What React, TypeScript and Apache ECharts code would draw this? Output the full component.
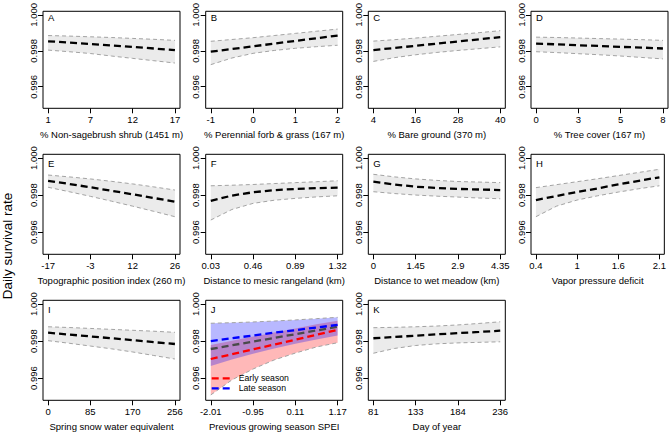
import React, { useEffect, useRef } from "react";
import * as echarts from "echarts";

const FONT = '"Liberation Sans", Arial, Helvetica, sans-serif';

// Prediction points: four evenly spaced reference values per covariate (0..3),
// evaluated at half steps.
const xPos = [0, 0.5, 1, 1.5, 2, 2.5, 3];
const xTickPos = [0, 1, 2, 3];
const yTicks = [0.996, 0.998, 1.0];

const letters = ["A", "B", "C", "D", "E", "F", "G", "H", "I", "J", "K"];

const titles = [
  "% Non-sagebrush shrub (1451 m)",
  "% Perennial forb & grass (167 m)",
  "% Bare ground (370 m)",
  "% Tree cover (167 m)",
  "Topographic position index (260 m)",
  "Distance to mesic rangeland (km)",
  "Distance to wet meadow (km)",
  "Vapor pressure deficit",
  "Spring snow water equivalent",
  "Previous growing season SPEI",
  "Day of year",
];

const shrubTicks = ["1", "7", "12", "17"];
const forbTicks = ["-1", "0", "1", "2"];
const bareTicks = ["4", "16", "28", "40"];
const treeTicks = ["0", "3", "5", "8"];
const tpiTicks = ["-17", "-3", "12", "26"];
const mesicTicks = ["0.03", "0.46", "0.89", "1.32"];
const meadowTicks = ["0", "1.45", "2.9", "4.35"];
const vpdTicks = ["0.4", "1", "1.6", "2.1"];
const sweTicks = ["0", "85", "170", "256"];
const speiTicks = ["-2.01", "-0.95", "0.11", "1.17"];
const dayTicks = ["81", "133", "184", "236"];

const shrubMean = [0.99853, 0.99846, 0.99838, 0.9983, 0.99822, 0.99813, 0.99804];
const shrubUpper = [0.99885, 0.99882, 0.99878, 0.99874, 0.99869, 0.99864, 0.99858];
const shrubLower = [0.99804, 0.99795, 0.99785, 0.99771, 0.99758, 0.99745, 0.99732];

const forbMean = [0.99795, 0.9981, 0.99825, 0.9984, 0.99855, 0.9987, 0.99885];
const forbUpper = [0.99853, 0.99863, 0.99873, 0.99885, 0.99897, 0.99909, 0.99921];
const forbLower = [0.99723, 0.9976, 0.99786, 0.99802, 0.99814, 0.99823, 0.99831];

const bareMean = [0.99804, 0.99816, 0.99828, 0.9984, 0.99852, 0.99864, 0.99876];
const bareUpper = [0.99854, 0.99862, 0.99871, 0.99881, 0.99891, 0.99901, 0.99912];
const bareLower = [0.99741, 0.99762, 0.99778, 0.99791, 0.99802, 0.99812, 0.99822];

const treeMean = [0.9984, 0.99836, 0.99831, 0.99827, 0.99822, 0.99818, 0.99813];
const treeUpper = [0.99876, 0.99874, 0.99871, 0.99868, 0.99865, 0.99862, 0.99858];
const treeLower = [0.99795, 0.9979, 0.99784, 0.99778, 0.99771, 0.99763, 0.99755];

const tpiMean = [0.99877, 0.9986, 0.99842, 0.99823, 0.99804, 0.99784, 0.99764];
const tpiUpper = [0.99908, 0.99898, 0.99887, 0.99874, 0.9986, 0.99844, 0.99827];
const tpiLower = [0.99842, 0.99818, 0.99793, 0.99767, 0.9974, 0.99712, 0.99683];

const mesicMean = [0.99769, 0.99797, 0.99815, 0.99826, 0.99833, 0.99837, 0.9984];
const mesicUpper = [0.9985, 0.99853, 0.99857, 0.99862, 0.99867, 0.99872, 0.99877];
const mesicLower = [0.99665, 0.99722, 0.99755, 0.99772, 0.99782, 0.9979, 0.99796];

const meadowMean = [0.99872, 0.99857, 0.99845, 0.99838, 0.99833, 0.9983, 0.99827];
const meadowUpper = [0.99912, 0.99898, 0.99887, 0.99879, 0.99873, 0.9987, 0.99867];
const meadowLower = [0.99818, 0.99808, 0.998, 0.99794, 0.99789, 0.99784, 0.9978];

const vpdMean = [0.99773, 0.99795, 0.99816, 0.99836, 0.99857, 0.99877, 0.99896];
const vpdUpper = [0.9984, 0.99856, 0.99872, 0.99888, 0.99905, 0.99922, 0.99939];
const vpdLower = [0.99683, 0.9974, 0.99773, 0.99796, 0.99816, 0.99834, 0.9985];

const sweMean = [0.99845, 0.99835, 0.99825, 0.99815, 0.99805, 0.99794, 0.99784];
const sweUpper = [0.99877, 0.99873, 0.99868, 0.99863, 0.99858, 0.99853, 0.99847];
const sweLower = [0.99802, 0.99788, 0.99773, 0.99758, 0.99741, 0.99722, 0.99703];

// SPEI: overall effect plus early- and late-season effects
const speiMean = [0.99757, 0.99777, 0.99797, 0.99817, 0.99837, 0.99857, 0.99877];
const earlyMean = [0.99703, 0.99729, 0.99755, 0.99781, 0.99807, 0.99834, 0.9986];
const earlyUpper = [0.99779, 0.99802, 0.99824, 0.99846, 0.99868, 0.9989, 0.9991];
const earlyLower = [0.99509, 0.9959, 0.99649, 0.99698, 0.99735, 0.99768, 0.99791];
const lateMean = [0.998, 0.99815, 0.9983, 0.99845, 0.99859, 0.99873, 0.99887];
const lateUpper = [0.99896, 0.99899, 0.99903, 0.99908, 0.99914, 0.99921, 0.99928];
const lateLower = [0.99665, 0.997, 0.99732, 0.9976, 0.99785, 0.99808, 0.9983];

const dayMean = [0.99815, 0.99822, 0.99829, 0.99836, 0.99843, 0.99849, 0.99856];
const dayUpper = [0.99872, 0.99874, 0.99877, 0.99881, 0.99887, 0.99895, 0.99904];
const dayLower = [0.99734, 0.9976, 0.99776, 0.99785, 0.9979, 0.99793, 0.99796];

const panelTicks = [
  shrubTicks, forbTicks, bareTicks, treeTicks, tpiTicks, mesicTicks,
  meadowTicks, vpdTicks, sweTicks, speiTicks, dayTicks,
];
const panelMean = [
  shrubMean, forbMean, bareMean, treeMean, tpiMean, mesicMean,
  meadowMean, vpdMean, sweMean, speiMean, dayMean,
];
const panelUpper = [
  shrubUpper, forbUpper, bareUpper, treeUpper, tpiUpper, mesicUpper,
  meadowUpper, vpdUpper, sweUpper, null, dayUpper,
];
const panelLower = [
  shrubLower, forbLower, bareLower, treeLower, tpiLower, mesicLower,
  meadowLower, vpdLower, sweLower, null, dayLower,
];

// layout of the panel boxes
const COL_LEFT = [43, 205.7, 368.3, 531];
const ROW_TOP = [8.3, 154.3, 300.3];
const BOX_W = 137;
const BOX_H = 100;
const Y_MIN = 0.9948;
const Y_MAX = 1.0002;
const X_MIN = -0.12;
const X_MAX = 3.12;

const BAND_FILL = "#EBEBEB";
const BORDER = { color: "#A3A3A3", width: 1, type: [4, 3] as number[] };
const MEAN_DASH = [7, 4];

const pts = (arr: number[]) => xPos.map((x, k) => [x, arr[k]]);

// confidence band: polygon along the upper bound and back along the lower bound
function bandSeries(i: number, lo: number[], hi: number[], fill: string) {
  return {
    type: "custom",
    xAxisIndex: i,
    yAxisIndex: i,
    silent: true,
    clip: true,
    z: 1,
    data: [[xPos[0], lo[0]]],
    renderItem: (_params: any, api: any) => {
      const upper = xPos.map((x, k) => api.coord([x, hi[k]]));
      const lower = xPos.map((x, k) => api.coord([x, lo[k]])).reverse();
      return {
        type: "polygon",
        shape: { points: upper.concat(lower) },
        style: { fill, stroke: null },
      };
    },
  };
}

function lineSeries(i: number, data: number[], color: string, width: number, type: any, z = 3) {
  return {
    type: "line",
    xAxisIndex: i,
    yAxisIndex: i,
    smooth: false,
    symbol: "none",
    silent: true,
    data: pts(data),
    lineStyle: { color, width, type },
    z,
  };
}

function buildOption() {
  const grid: any[] = [];
  const xAxis: any[] = [];
  const yAxis: any[] = [];
  const series: any[] = [];
  const graphic: any[] = [];

  letters.forEach((letter, i) => {
    const col = i % 4;
    const row = Math.floor(i / 4);
    const left = COL_LEFT[col];
    const top = ROW_TOP[row];
    grid.push({
      left,
      top,
      width: BOX_W,
      height: BOX_H,
      show: true,
      borderColor: "#000",
      borderWidth: 1,
      backgroundColor: "transparent",
      z: 5,
    });
    const ticks = panelTicks[i];
    xAxis.push({
      gridIndex: i,
      type: "value",
      min: X_MIN,
      max: X_MAX,
      axisLine: { show: false, onZero: false },
      splitLine: { show: false },
      axisTick: {
        show: true,
        customValues: xTickPos,
        length: 5,
        lineStyle: { color: "#000", width: 1 },
      },
      axisLabel: {
        customValues: xTickPos,
        formatter: (v: number) => ticks[Math.round(v)],
        margin: 6,
        fontSize: 9.5,
        color: "#000",
        fontFamily: FONT,
      },
      name: titles[i],
      nameLocation: "middle",
      nameGap: 21,
      nameTextStyle: { fontSize: 9.5, color: "#000", fontFamily: FONT },
    });
    yAxis.push({
      gridIndex: i,
      type: "value",
      min: Y_MIN,
      max: Y_MAX,
      axisLine: { show: false, onZero: false },
      splitLine: { show: false },
      axisTick: {
        show: true,
        customValues: yTicks,
        length: 5,
        lineStyle: { color: "#000", width: 1 },
      },
      axisLabel: {
        customValues: yTicks,
        rotate: 90,
        formatter: (v: number) => v.toFixed(3),
        margin: 5,
        fontSize: 9.5,
        color: "#000",
        fontFamily: FONT,
      },
    });

    if (letter === "J") {
      series.push(bandSeries(i, earlyLower, earlyUpper, "rgba(255,0,0,0.28)"));
      series.push(bandSeries(i, lateLower, lateUpper, "rgba(0,0,255,0.28)"));
      series.push(lineSeries(i, lateUpper, BORDER.color, BORDER.width, BORDER.type, 2));
      series.push(lineSeries(i, earlyLower, BORDER.color, BORDER.width, BORDER.type, 2));
      series.push(lineSeries(i, speiMean, "#4A4A4A", 2.3, MEAN_DASH));
      series.push(lineSeries(i, lateMean, "#0000FF", 2.3, MEAN_DASH));
      series.push(lineSeries(i, earlyMean, "#FF0000", 2.3, MEAN_DASH));
    } else {
      const lo = panelLower[i] as number[];
      const hi = panelUpper[i] as number[];
      series.push(bandSeries(i, lo, hi, BAND_FILL));
      series.push(lineSeries(i, hi, BORDER.color, BORDER.width, BORDER.type, 2));
      series.push(lineSeries(i, lo, BORDER.color, BORDER.width, BORDER.type, 2));
      series.push(lineSeries(i, panelMean[i], "#000", 2.3, MEAN_DASH));
    }

    graphic.push({
      type: "text",
      x: left + 5,
      y: top + 9,
      style: {
        text: letter,
        fontSize: 9.5,
        fontFamily: FONT,
        fill: "#000",
        align: "left",
        verticalAlign: "middle",
      },
    });

    if (letter === "J") {
      const legend = [
        { label: "Early season", color: "#FF0000", dy: 78 },
        { label: "Late season", color: "#0000FF", dy: 88 },
      ];
      legend.forEach((it) => {
        graphic.push({
          type: "line",
          shape: { x1: left + 6, y1: top + it.dy, x2: left + 28, y2: top + it.dy },
          style: { stroke: it.color, lineWidth: 2.3, lineDash: MEAN_DASH },
          z: 10,
        });
        graphic.push({
          type: "text",
          x: left + 33,
          y: top + it.dy,
          style: {
            text: it.label,
            fontSize: 8.7,
            fontFamily: FONT,
            fill: "#000",
            align: "left",
            verticalAlign: "middle",
          },
          z: 10,
        });
      });
    }
  });

  graphic.push({
    type: "text",
    x: 7,
    y: 246,
    rotation: Math.PI / 2,
    style: {
      text: "Daily survival rate",
      fontSize: 13.5,
      fontFamily: FONT,
      fill: "#000",
      align: "center",
      verticalAlign: "middle",
    },
  });

  return {
    animation: false,
    backgroundColor: "#fff",
    grid,
    xAxis,
    yAxis,
    series,
    graphic,
  };
}

export default function App() {
  const ref = useRef<HTMLDivElement>(null);
  useEffect(() => {
    if (!ref.current) return;
    const chart = echarts.init(ref.current, null, { renderer: "svg" });
    chart.setOption(buildOption() as any);
    return () => chart.dispose();
  }, []);
  return (
    <div
      ref={ref}
      style={{ position: "absolute", left: 0, top: 0, width: 669, height: 433 }}
    />
  );
}
